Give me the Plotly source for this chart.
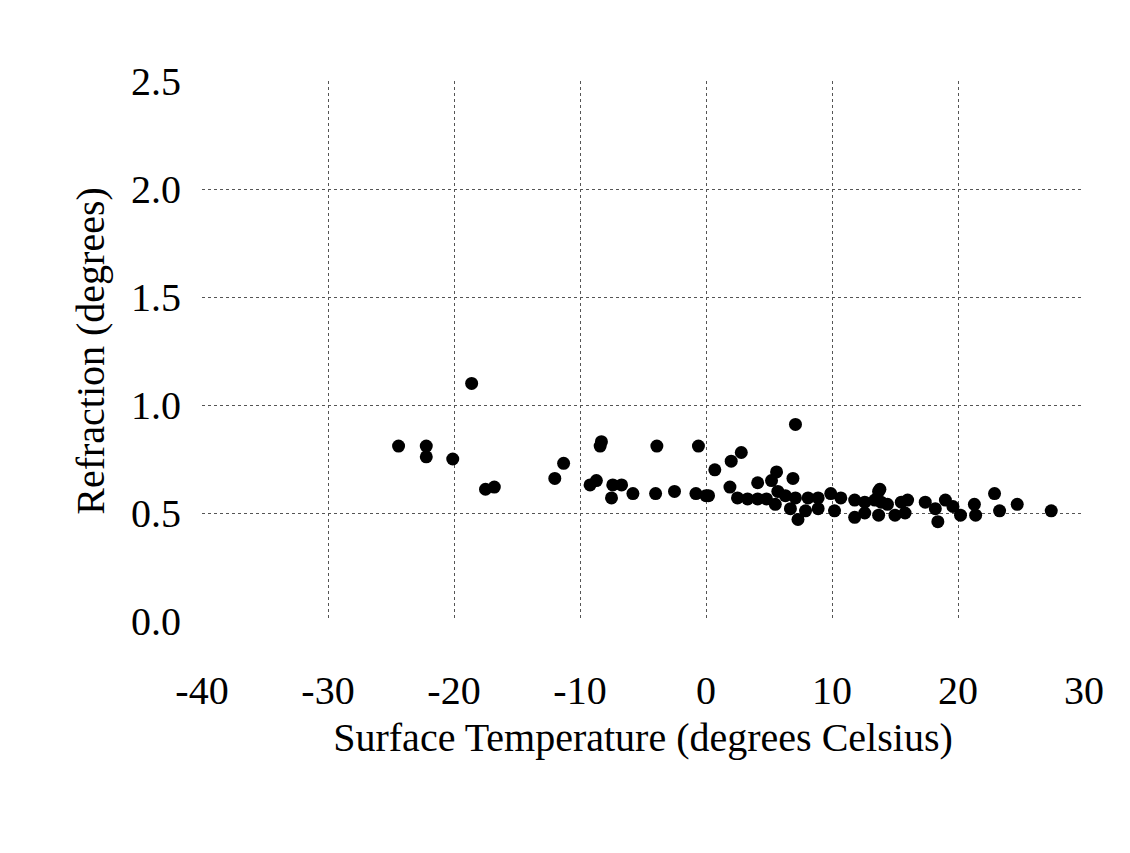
import plotly.graph_objects as go

temperature = [
    -24.4, -22.2, -22.2, -20.1, -18.6, -17.5, -16.8, -12.0, -11.3,
    -9.2, -8.7, -8.3, -8.4, -7.4, -6.7, -7.5, -5.8, -4.0, -3.9, -2.5,
    -0.8, -0.6, 0.0, 0.2,
    0.7, 1.9, 2.0, 2.5, 2.8, 3.3, 4.1, 4.1, 4.8, 5.2, 5.5, 5.6, 5.7, 6.9,
    6.3, 7.1, 8.1, 8.9, 9.9, 10.7, 11.8, 12.6, 13.7, 13.9,
    6.7, 7.9, 8.9, 7.3, 7.1, 10.2, 11.8, 12.6,
    13.8, 13.4, 14.4, 15.5, 16.0, 13.7, 15.0, 15.8,
    17.4, 18.2, 19.0, 19.6, 20.2, 18.4, 21.3, 21.4, 22.9, 23.3, 24.7, 27.4,
]
refraction = [
    0.81, 0.81, 0.76, 0.75, 1.10, 0.61, 0.62, 0.66, 0.73,
    0.63, 0.65, 0.83, 0.81, 0.63, 0.63, 0.57, 0.59, 0.59, 0.81, 0.60,
    0.59, 0.81, 0.58, 0.58,
    0.70, 0.62, 0.74, 0.57, 0.78, 0.565, 0.565, 0.64, 0.565, 0.65, 0.54, 0.69, 0.60, 0.66,
    0.58, 0.57, 0.57, 0.57, 0.59, 0.57, 0.56, 0.55, 0.60, 0.55,
    0.52, 0.51, 0.52, 0.47, 0.91, 0.51, 0.48, 0.50,
    0.61, 0.56, 0.54, 0.55, 0.56, 0.49, 0.49, 0.50,
    0.55, 0.52, 0.56, 0.53, 0.49, 0.46, 0.54, 0.49, 0.59, 0.51, 0.54, 0.51,
]

x_ticks = [-40, -30, -20, -10, 0, 10, 20, 30]
y_ticks = [0.0, 0.5, 1.0, 1.5, 2.0, 2.5]

font_family = "Liberation Serif, Times New Roman, serif"

fig = go.Figure()
fig.add_trace(go.Scatter(
    x=temperature, y=refraction, mode="markers",
    marker=dict(symbol="circle", size=13, color="black"),
    showlegend=False,
))

fig.update_layout(
    width=1130, height=853,
    margin=dict(l=194, r=54, t=73, b=240),
    paper_bgcolor="white", plot_bgcolor="white",
    font=dict(family=font_family, color="black", size=40),
)
fig.update_xaxes(
    range=[-40, 30], tickvals=x_ticks, ticktext=[str(v) for v in x_ticks],
    showgrid=True, gridcolor="#555", griddash="dot", gridwidth=1,
    zeroline=False, showline=False, ticks="", ticklabelstandoff=42,
    tickfont=dict(size=40),
    title=dict(text="Surface Temperature (degrees Celsius)", font=dict(size=40), standoff=10),
)
fig.update_yaxes(
    range=[0, 2.5], tickvals=y_ticks, ticktext=[f"{v:.1f}" for v in y_ticks],
    showgrid=True, gridcolor="#555", griddash="dot", gridwidth=1,
    zeroline=False, showline=False, ticks="", ticklabelstandoff=20,
    tickfont=dict(size=40),
    title=dict(text="Refraction (degrees)", font=dict(size=40), standoff=14),
)

fig.write_html("out.html")
